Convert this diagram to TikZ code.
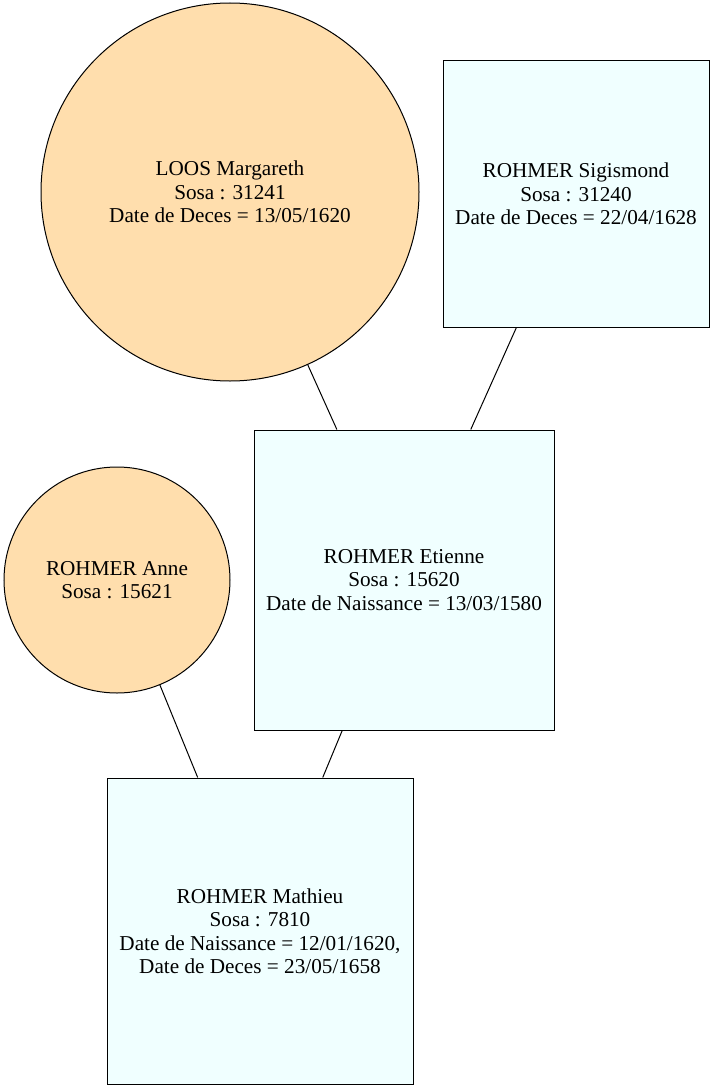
\documentclass[tikz,border=0pt]{standalone}
\usepackage{fontspec}
\setmainfont{Liberation Serif}
\usepackage{tikz}

\definecolor{womancol}{HTML}{FFDEAD}
\definecolor{mancol}{HTML}{F0FFFF}

\tikzset{
  person/.style={draw=black, line width=1pt, align=center, inner sep=0pt,
    font=\fontsize{21.2}{23.5}\selectfont},
  woman/.style={person, circle, fill=womancol},
  man/.style={person, rectangle, fill=mancol},
  link/.style={draw=black, line width=1pt}
}

\begin{document}
\begin{tikzpicture}[x=1pt, y=-1pt]
  \useasboundingbox (0,0) rectangle (715,1089);

  \node[woman, minimum size=378pt] (margareth) at (230,192)
    {LOOS Margareth\\Sosa : 31241\\Date de Deces = 13/05/1620};
  \node[man, minimum width=266pt, minimum height=266pt] (sigismond) at (576,194)
    {ROHMER Sigismond\\Sosa : 31240\\Date de Deces = 22/04/1628};
  \node[man, minimum width=300pt, minimum height=300pt] (etienne) at (404,580)
    {ROHMER Etienne\\Sosa : 15620\\Date de Naissance = 13/03/1580};
  \node[woman, minimum size=226pt] (anne) at (117,580)
    {ROHMER Anne\\Sosa : 15621};
  \node[man, minimum width=306pt, minimum height=306pt] (mathieu) at (260,931)
    {ROHMER Mathieu\\Sosa : 7810\\Date de Naissance = 12/01/1620,\\Date de Deces = 23/05/1658};

  % parents
  \draw[link] (margareth) -- (etienne);
  \draw[link] (sigismond) -- (etienne);
  \draw[link] (anne) -- (mathieu);
  \draw[link] (etienne) -- (mathieu);
\end{tikzpicture}
\end{document}
